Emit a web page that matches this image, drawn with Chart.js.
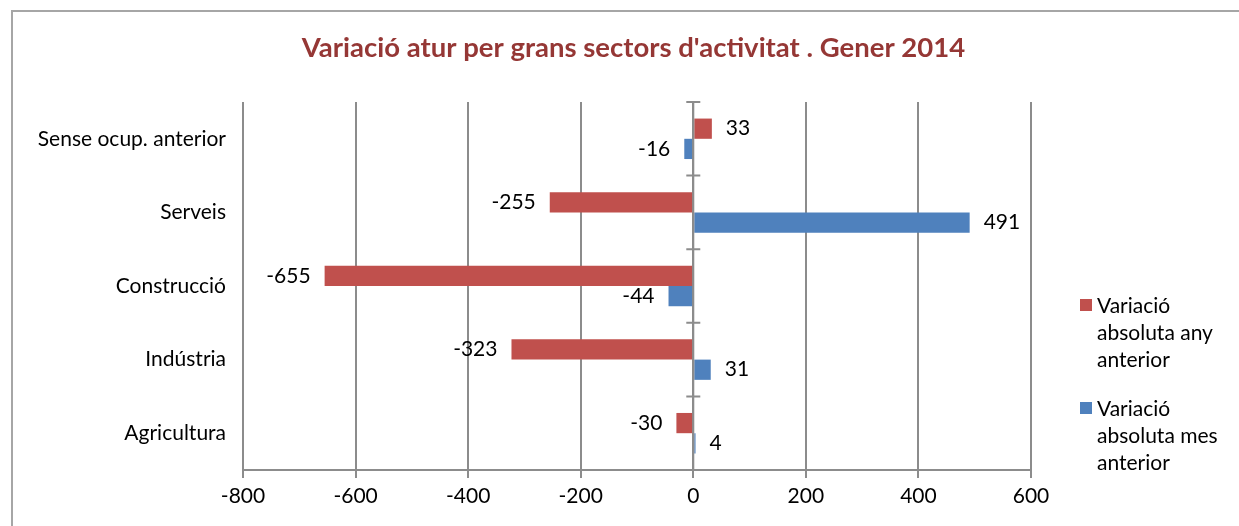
<!DOCTYPE html>
<html>
<head>
<meta charset="utf-8">
<script src="https://cdn.jsdelivr.net/npm/chart.js@4.4.1/dist/chart.umd.min.js"></script>
<style>
  body { margin: 0; background: #fff; overflow: hidden; }
  #wrap { position: relative; width: 1239px; height: 526px; overflow: hidden; }
  #frame { position: absolute; left: 11px; top: 10px; right: 0; bottom: 0; border-left: 2px solid #a6a6a6; border-top: 2px solid #a6a6a6; }
  #chart { position: absolute; left: 0; top: 0; }
  #legend { position: absolute; left: 1080px; top: 291px; font-family: Lato, sans-serif; font-size: 21px; color: #000; }
  .item { position: relative; padding-left: 17px; line-height: 27px; margin-bottom: 22px; }
  .item span { position: absolute; left: 0; top: 8px; width: 12px; height: 12px; }
</style>
</head>
<body>
<div id="wrap">
  <div id="frame"></div>
  <canvas id="chart" width="1239" height="526"></canvas>
  <div id="legend"></div>
</div>
<script>
const categories = ['Sense ocup. anterior', 'Serveis', 'Construcció', 'Indústria', 'Agricultura'];
const seriesNames = [['Variació', 'absoluta any', 'anterior'], ['Variació', 'absoluta mes', 'anterior']];
const anyAnterior = [33, -255, -655, -323, -30];
const mesAnterior = [-16, 491, -44, 31, 4];
const xTicks = [-800, -600, -400, -200, 0, 200, 400, 600];
const colors = ['#C0504D', '#4F81BD'];

const fontFamily = 'Lato, sans-serif';
const labelSize = 21;

// value labels next to the bar ends
const valueLabels = {
    id: 'valueLabels',
    afterDatasetsDraw(chart) {
        const ctx = chart.ctx;
        ctx.save();
        ctx.font = labelSize + 'px ' + fontFamily;
        ctx.fillStyle = '#000';
        ctx.textBaseline = 'middle';
        chart.data.datasets.forEach((ds, i) => {
            chart.getDatasetMeta(i).data.forEach((bar, j) => {
                const v = ds.data[j];
                if (v >= 0) {
                    ctx.textAlign = 'left';
                    ctx.fillText(String(v), bar.x + 14, bar.y);
                } else {
                    ctx.textAlign = 'right';
                    ctx.fillText(String(v), bar.x - 14, bar.y);
                }
            });
        });
        ctx.restore();
    }
};

// vertical axis crossing at zero, with tick marks between categories
const zeroAxis = {
    id: 'zeroAxis',
    afterDatasetsDraw(chart) {
        const ctx = chart.ctx;
        const x = chart.scales.x.getPixelForValue(0);
        const area = chart.chartArea;
        ctx.save();
        ctx.strokeStyle = '#8c8c8c';
        ctx.lineWidth = 2;
        ctx.beginPath();
        ctx.moveTo(x, area.top);
        ctx.lineTo(x, area.bottom);
        const step = (area.bottom - area.top) / categories.length;
        for (let k = 0; k <= categories.length; k++) {
            const ty = area.top + k * step;
            ctx.moveTo(x - 7, ty);
            ctx.lineTo(x + 7, ty);
        }
        ctx.stroke();
        ctx.restore();
    }
};

const legend = document.getElementById('legend');
seriesNames.forEach((lines, i) => {
    const d = document.createElement('div');
    d.className = 'item';
    d.innerHTML = '<span style="background:' + colors[i] + '"></span>' + lines.join('<br>');
    legend.appendChild(d);
});

new Chart(document.getElementById('chart'), {
    type: 'bar',
    data: {
        labels: categories,
        datasets: [
            { label: seriesNames[0].join(' '), data: anyAnterior, backgroundColor: colors[0] },
            { label: seriesNames[1].join(' '), data: mesAnterior, backgroundColor: colors[1] }
        ]
    },
    options: {
        indexAxis: 'y',
        responsive: false,
        animation: false,
        categoryPercentage: 0.55,
        barPercentage: 1,
        layout: { padding: { left: 28, right: 0, top: 0, bottom: 0 } },
        plugins: {
            legend: { display: false },
            tooltip: { enabled: false },
            title: {
                display: true,
                text: "Variació atur per grans sectors d'activitat . Gener 2014",
                color: '#953735',
                font: { family: fontFamily, size: 27.5, weight: 'bold', lineHeight: 1.2 },
                padding: { top: 32, bottom: 37 }
            }
        },
        scales: {
            x: {
                min: -800,
                max: 600,
                afterBuildTicks: (scale) => { scale.ticks = xTicks.map(v => ({ value: v })); },
                afterFit: (scale) => { scale.height = 56; },
                grid: { color: '#8c8c8c', lineWidth: 2, tickLength: 8 },
                border: { color: '#8c8c8c', width: 2 },
                ticks: { color: '#000', font: { family: fontFamily, size: labelSize }, padding: 6, maxRotation: 0 }
            },
            y: {
                afterFit: (scale) => { scale.width = 215; },
                grid: { display: false },
                border: { display: false },
                ticks: { color: '#000', font: { family: fontFamily, size: labelSize }, padding: 9 }
            },
            // empty right-hand space reserved for the legend
            legendSpace: {
                type: 'linear',
                position: 'right',
                afterFit: (scale) => { scale.width = 208; },
                grid: { display: false },
                border: { display: false },
                ticks: { display: false }
            }
        }
    },
    plugins: [valueLabels, zeroAxis]
});
</script>
</body>
</html>
